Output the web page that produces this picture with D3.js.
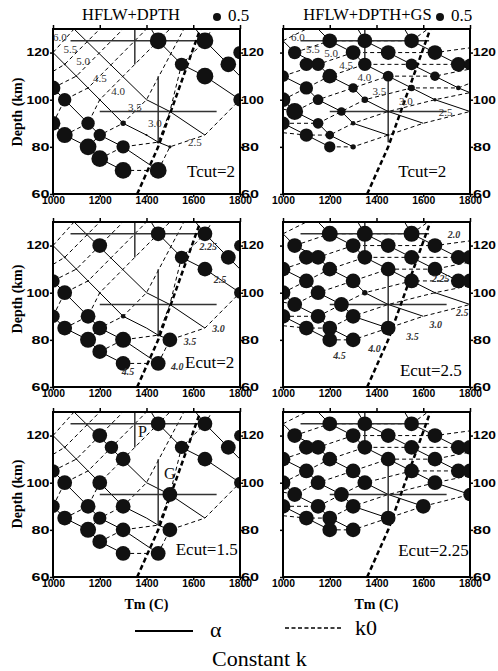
<!DOCTYPE html>
<html lang='en'>
<head>
  <meta charset='UTF-8'>
  <title>Depth vs Tm grid search</title>
  <style type='text/css'>
    body {
      margin: 0;
      background: #fff;
    }
    svg {
      display: block;
    }
    .tick text {
      font-family: 'Liberation Sans', Arial, sans-serif;
      font-weight: bold;
      font-size: 10.5px;
      fill: #000;
    }
    .tick line {
      stroke: #000;
      stroke-width: 1.5px;
    }
  </style>
  <script type='text/javascript' src='https://d3js.org/d3.v7.min.js'></script>
</head>
<body>
  <script type='text/javascript'>
    const tempTicks = [1000, 1200, 1400, 1600, 1800]
    const depthTicks = [60, 80, 100, 120]

    // HFLW+DPTH grid: constant alpha (solid) and constant k0 (dashed), [Tm, depth]
    const leftAlphaLines = [
      [[1000, 90], [1050, 85], [1150, 80], [1200, 75], [1300, 70]],
      [[1000, 105], [1050, 100], [1150, 90], [1200, 85], [1300, 80], [1450, 70]],
      [[1000, 120], [1050, 115], [1100, 110], [1150, 105], [1200, 100], [1300, 90], [1400, 85], [1450, 82], [1500, 80]],
      [[1090, 130], [1400, 100], [1500, 95], [1650, 85]],
      [[1420, 130], [1450, 125], [1550, 115], [1650, 110], [1800, 100]],
      [[1610, 130], [1650, 125], [1750, 115], [1800, 110]]
    ]
    const leftK0Lines = [
      [[1300, 70], [1450, 70], [1500, 80], [1650, 85], [1800, 100]],
      [[1200, 75], [1300, 80], [1450, 82], [1500, 95], [1550, 115], [1650, 125], [1680, 130]],
      [[1150, 80], [1200, 85], [1300, 90], [1400, 100], [1480, 115], [1560, 130]],
      [[1050, 85], [1150, 90], [1200, 100], [1300, 110], [1420, 122], [1500, 130]],
      [[1000, 90], [1050, 100], [1150, 105], [1250, 115], [1400, 130]],
      [[1000, 105], [1100, 110], [1200, 120], [1300, 130]],
      [[1000, 112], [1050, 115], [1150, 125], [1200, 130]],
      [[1000, 120], [1090, 130]]
    ]

    // HFLW+DPTH+GS grid
    const rightAlphaLines = [
      [[1000, 90], [1100, 85], [1200, 80]],
      [[1000, 100], [1050, 95], [1150, 90], [1200, 85], [1300, 80]],
      [[1000, 110], [1100, 105], [1150, 100], [1250, 95], [1300, 90], [1450, 85]],
      [[1000, 125], [1050, 120], [1150, 115], [1200, 110], [1300, 105], [1350, 100], [1450, 95], [1600, 90]],
      [[1150, 130], [1200, 125], [1300, 120], [1350, 115], [1450, 110], [1550, 105], [1650, 100], [1800, 95]],
      [[1320, 130], [1350, 125], [1450, 120], [1550, 115], [1650, 110], [1750, 105], [1800, 103]],
      [[1520, 130], [1550, 125], [1650, 120], [1750, 115], [1800, 113]]
    ]
    const rightK0Lines = [
      [[1200, 80], [1300, 80], [1450, 85], [1600, 90], [1800, 95]],
      [[1000, 86], [1100, 85], [1200, 85], [1300, 90], [1450, 95], [1650, 100], [1800, 103]],
      [[1000, 90], [1150, 90], [1250, 95], [1350, 100], [1550, 105], [1750, 105], [1800, 107]],
      [[1000, 96], [1050, 95], [1150, 100], [1300, 105], [1450, 110], [1650, 110], [1800, 113]],
      [[1000, 100], [1100, 105], [1200, 110], [1350, 115], [1550, 115], [1750, 115]],
      [[1000, 110], [1150, 115], [1300, 120], [1450, 120], [1650, 120], [1800, 122]],
      [[1050, 120], [1200, 125], [1350, 125], [1550, 125], [1620, 130]],
      [[1000, 125], [1100, 130]]
    ]

    const solidusLine = [[1360, 60], [1450, 80], [1630, 130]]
    const crossP = [[[1075, 125], [1625, 125]], [[1350, 115], [1350, 130]]]
    const crossG = [[[1200, 95], [1700, 95]], [[1450, 82], [1450, 110]]]

    // contour labels [text, Tm, depth]
    const leftK0Labels = [['6.0', 1029, 126], ['5.5', 1074, 121], ['5.0', 1129, 116], ['4.5', 1200, 108.5],
      ['4.0', 1279, 103], ['3.5', 1350, 96.4], ['3.0', 1436, 89.3], ['2.5', 1607, 81.5]]
    const rightK0Labels = [['6.0', 1064, 126], ['5.5', 1128, 121], ['5.0', 1206, 119], ['4.5', 1270, 114],
      ['4.0', 1348, 109], ['3.5', 1412, 103], ['3.0', 1526, 99], ['2.5', 1696, 94]]
    const leftAlphaLabels = [['2.25', 1664, 119], ['2.5', 1714, 105], ['3.0', 1708, 84.5], ['3.5', 1586, 79],
      ['4.0', 1532, 68], ['4.5', 1321, 66]]
    const rightAlphaLabels = [['2.0', 1732, 124], ['2.25', 1675, 105.5], ['2.5', 1767, 91], ['3.0', 1654, 86],
      ['3.5', 1554, 81], ['4.0', 1391, 76], ['4.5', 1242, 73]]
    const pointLabels = [['P', 1383, 121], ['G', 1500, 103]]

    // misfit circles [Tm, depth, value]
    const tcutLeft = [[1000, 105, 1.7], [1050, 100, 1.4], [1000, 90, 1.7], [1050, 85, 2.0], [1150, 90, 1.4],
      [1150, 80, 2.2], [1200, 85, 1.2], [1200, 75, 2.2], [1300, 80, 1.4], [1300, 70, 2.2], [1450, 70, 2.2],
      [1450, 125, 2.2], [1650, 125, 2.2], [1550, 115, 1.4], [1650, 110, 2.2], [1750, 115, 1.9], [1800, 120, 1.4],
      [1800, 100, 1.4], [1300, 90, 0.23], [1500, 80, 0.08], [1050, 115, 0.03], [1100, 110, 0.03],
      [1150, 105, 0.03], [1200, 100, 0.03], [1400, 85, 0.03], [1450, 82, 0.05]]
    const tcutRight = [[1200, 125, 1.7], [1350, 125, 1.7], [1550, 125, 1.7], [1050, 120, 1.4], [1300, 120, 1.7],
      [1450, 120, 1.7], [1650, 120, 1.7], [1100, 115, 1.4], [1150, 115, 1.4], [1350, 115, 1.4], [1550, 115, 1.1],
      [1750, 115, 1.7], [1800, 115, 1.1], [1000, 110, 1.1], [1200, 110, 1.7], [1450, 110, 0.9], [1650, 110, 0.7],
      [1100, 105, 1.4], [1300, 105, 0.7], [1550, 105, 0.34], [1750, 105, 0.17], [1000, 100, 1.7], [1050, 95, 2.2],
      [1150, 100, 0.9], [1350, 100, 0.34], [1650, 100, 0.09], [1250, 95, 0.58], [1000, 90, 1.4], [1150, 90, 0.9],
      [1300, 90, 0.17], [1100, 85, 1.4], [1200, 85, 0.58], [1200, 80, 1.0], [1300, 80, 0.23], [1450, 95, 0.05],
      [1450, 85, 0.05]]
    const ecut2Left = [[1450, 125, 1.7], [1650, 125, 1.7], [1200, 120, 1.7], [1550, 115, 1.4], [1650, 110, 1.7],
      [1750, 115, 1.7], [1800, 120, 1.1], [1800, 100, 1.1], [1000, 105, 1.4], [1050, 100, 1.7], [1000, 90, 1.4],
      [1050, 85, 1.7], [1150, 90, 1.7], [1200, 85, 1.7], [1150, 80, 2.0], [1200, 75, 1.7], [1300, 80, 2.0],
      [1300, 70, 1.7], [1450, 70, 1.7], [1500, 80, 1.7], [1300, 90, 0.17], [1050, 115, 0.03], [1100, 110, 0.03],
      [1150, 105, 0.03], [1200, 100, 0.03], [1450, 82, 0.05]]
    const ecut25Right = [[1200, 125, 2.0], [1350, 125, 2.0], [1550, 125, 2.0], [1050, 120, 1.7], [1300, 120, 1.7],
      [1450, 120, 1.7], [1650, 120, 1.7], [1100, 115, 1.7], [1150, 115, 1.7], [1350, 115, 1.7], [1550, 115, 1.7],
      [1750, 115, 1.7], [1800, 115, 1.7], [1000, 110, 1.7], [1200, 110, 1.7], [1450, 110, 1.7], [1650, 110, 1.7],
      [1100, 105, 1.7], [1300, 105, 1.7], [1550, 105, 1.7], [1750, 105, 1.7], [1800, 105, 1.7], [1000, 100, 1.7],
      [1150, 100, 1.7], [1350, 100, 0.23], [1650, 100, 0.03], [1050, 95, 1.7], [1250, 95, 1.7], [1000, 90, 1.7],
      [1150, 90, 1.7], [1300, 90, 1.7], [1100, 85, 1.7], [1200, 85, 1.7], [1200, 80, 1.7], [1300, 80, 1.7],
      [1450, 85, 1.7], [1450, 95, 0.03]]
    const ecut15Left = [[1450, 125, 1.7], [1650, 125, 1.7], [1200, 120, 1.7], [1250, 115, 1.4], [1300, 110, 1.7],
      [1550, 115, 1.4], [1650, 110, 1.7], [1750, 115, 1.7], [1800, 120, 1.1], [1800, 100, 1.1], [1000, 105, 1.4],
      [1050, 100, 1.7], [1200, 100, 1.7], [1000, 90, 1.4], [1050, 85, 1.7], [1150, 90, 1.7], [1200, 85, 1.4],
      [1150, 80, 2.0], [1200, 75, 1.7], [1300, 90, 1.7], [1300, 80, 1.7], [1300, 70, 1.7], [1450, 70, 1.7],
      [1500, 95, 1.7], [1500, 80, 1.7], [1050, 115, 0.03], [1100, 110, 0.03]]
    const ecut225Right = [[1200, 125, 1.7], [1350, 125, 1.7], [1550, 125, 1.7], [1050, 120, 1.7], [1300, 120, 1.7],
      [1450, 120, 1.7], [1650, 120, 1.7], [1100, 115, 1.7], [1150, 115, 1.7], [1350, 115, 1.7], [1550, 115, 1.7],
      [1750, 115, 1.7], [1800, 115, 1.7], [1000, 110, 1.7], [1200, 110, 1.7], [1450, 110, 1.7], [1650, 110, 1.7],
      [1100, 105, 1.7], [1300, 105, 1.7], [1550, 105, 1.7], [1750, 105, 1.7], [1800, 105, 1.7], [1000, 100, 1.7],
      [1150, 100, 1.7], [1350, 100, 1.7], [1650, 100, 1.7], [1050, 95, 1.7], [1250, 95, 1.7], [1800, 95, 1.4],
      [1000, 90, 1.7], [1150, 90, 1.7], [1300, 90, 1.7], [1600, 90, 1.7], [1100, 85, 1.7], [1200, 85, 1.7],
      [1450, 85, 1.7], [1200, 80, 1.7], [1300, 80, 1.7]]

    const serif = "'Liberation Serif', 'Times New Roman', serif"
    const colX = [53, 283]
    const rowY = [29, 222, 412]
    const pw = 187
    const ph = 165

    const panels = [
      {col: 0, row: 0, circles: tcutLeft, labels: leftK0Labels, italic: false, note: 'Tcut=2', noteAt: [1573, 67.4]},
      {col: 1, row: 0, circles: tcutRight, labels: rightK0Labels, italic: false, note: 'Tcut=2', noteAt: [1493, 67.4]},
      {col: 0, row: 1, circles: ecut2Left, labels: leftAlphaLabels, italic: true, note: 'Ecut=2', noteAt: [1565, 68]},
      {col: 1, row: 1, circles: ecut25Right, labels: rightAlphaLabels, italic: true, note: 'Ecut=2.5', noteAt: [1500, 64.5]},
      {col: 0, row: 2, circles: ecut15Left, labels: pointLabels, italic: null, note: 'Ecut=1.5', noteAt: [1525, 69.3]},
      {col: 1, row: 2, circles: ecut225Right, labels: [], italic: null, note: 'Ecut=2.25', noteAt: [1493, 68.7]}
    ]

    const svg = d3.select('body').append('svg')
      .attr('width', 498)
      .attr('height', 671)

    const xScale = d3.scaleLinear().domain([1000, 1800]).range([0, pw])
    const yScale = d3.scaleLinear().domain([60, 130]).range([ph, 0])
    const rScale = d3.scaleSqrt().domain([0, 0.5]).range([0, 4])
    const line = d3.line().x(d => xScale(d[0])).y(d => yScale(d[1]))

    panels.forEach((p, i) => {
      const g = svg.append('g')
        .attr('transform', `translate(${colX[p.col]},${rowY[p.row]})`)

      g.append('clipPath').attr('id', `clip${i}`)
        .append('rect').attr('width', pw).attr('height', ph)

      const plot = g.append('g').attr('clip-path', `url(#clip${i})`)
      const alphaLines = p.col === 0 ? leftAlphaLines : rightAlphaLines
      const k0Lines = p.col === 0 ? leftK0Lines : rightK0Lines

      plot.selectAll('path.alpha')
        .data(alphaLines)
        .enter().append('path')
        .attr('class', 'alpha')
        .attr('d', line)
        .style('fill', 'none')
        .style('stroke', '#000')
        .style('stroke-width', 1)

      plot.selectAll('path.k0')
        .data(k0Lines)
        .enter().append('path')
        .attr('class', 'k0')
        .attr('d', line)
        .style('fill', 'none')
        .style('stroke', '#000')
        .style('stroke-width', 1)
        .style('stroke-dasharray', '4,3')

      plot.selectAll('path.cross')
        .data(crossP.concat(crossG))
        .enter().append('path')
        .attr('class', 'cross')
        .attr('d', line)
        .style('stroke', '#333')
        .style('stroke-width', 1.5)

      plot.append('path')
        .attr('d', line(solidusLine))
        .style('fill', 'none')
        .style('stroke', '#000')
        .style('stroke-width', 2.5)
        .style('stroke-dasharray', '5,3')

      plot.selectAll('circle')
        .data(p.circles)
        .enter().append('circle')
        .attr('cx', d => xScale(d[0]))
        .attr('cy', d => yScale(d[1]))
        .attr('r', d => rScale(d[2]))
        .style('fill', '#111')

      plot.selectAll('text.lab')
        .data(p.labels)
        .enter().append('text')
        .attr('class', 'lab')
        .attr('x', d => xScale(d[1]))
        .attr('y', d => yScale(d[2]))
        .attr('text-anchor', 'middle')
        .attr('dominant-baseline', 'middle')
        .style('font-family', serif)
        .style('font-size', p.italic === null ? '16px' : (p.italic ? '10px' : '11px'))
        .style('font-style', p.italic ? 'italic' : 'normal')
        .style('font-weight', p.italic ? 'bold' : 'normal')
        .style('fill', p.italic === null ? '#111' : '#333')
        .text(d => d[0])

      g.append('text')
        .attr('x', xScale(p.noteAt[0]))
        .attr('y', yScale(p.noteAt[1]))
        .style('font-family', serif)
        .style('font-size', '17px')
        .text(p.note)

      // axes
      const bottom = g.append('g')
        .attr('transform', `translate(0,${ph})`)
        .call(d3.axisBottom(xScale).tickValues(tempTicks).tickSize(3).tickPadding(0).tickFormat(d3.format('d')))
      const left = g.append('g')
        .call(d3.axisLeft(yScale).tickValues(depthTicks).tickSize(3).tickPadding(0.5)
          .tickFormat(p.col === 0 ? d3.format('d') : ''))
      const right = g.append('g')
        .attr('transform', `translate(${pw},0)`)
        .call(d3.axisRight(yScale).tickValues(depthTicks).tickSize(3).tickPadding(0).tickFormat(d3.format('d')))
      const top = g.append('g')
        .call(d3.axisTop(xScale).tickValues(tempTicks).tickSize(4).tickFormat(''))

      ;[bottom, left, right, top].forEach(a => a.select('.domain').remove())
      bottom.selectAll('text').attr('textLength', 23).attr('lengthAdjust', 'spacingAndGlyphs')
      ;[left, right].forEach(a => a.selectAll('text')
        .filter(function () { return this.textContent !== '' })
        .attr('textLength', function () { return this.textContent.length > 2 ? 23 : 18 })
        .attr('lengthAdjust', 'spacingAndGlyphs'))
      right.selectAll('text').attr('x', p.col === 0 ? 1 : 3)

      g.append('rect')
        .attr('width', pw)
        .attr('height', ph)
        .style('fill', 'none')
        .style('stroke', '#000')
        .style('stroke-width', 2)
    })

    // column titles with size key
    const titles = [['HFLW+DPTH', 131, 217], ['HFLW+DPTH+GS', 367.5, 440]]
    titles.forEach(t => {
      svg.append('text')
        .attr('x', t[1])
        .attr('y', 20)
        .attr('text-anchor', 'middle')
        .style('font-family', serif)
        .style('font-size', '16.5px')
        .text(t[0])
      svg.append('circle')
        .attr('cx', t[2])
        .attr('cy', 17)
        .attr('r', rScale(0.5))
        .style('fill', '#111')
      svg.append('text')
        .attr('x', t[2] + 11)
        .attr('y', 21)
        .style('font-family', serif)
        .style('font-size', '17px')
        .text('0.5')
    })

    const rowCenters = [112, 299, 494]
    rowCenters.forEach(c => {
      svg.append('text')
        .attr('transform', `translate(22,${c}) rotate(-90)`)
        .attr('text-anchor', 'middle')
        .style('font-family', serif)
        .style('font-weight', 'bold')
        .style('font-size', '14px')
        .text('Depth (km)')
    })

    colX.forEach(cx => {
      svg.append('text')
        .attr('x', cx + xScale(1400))
        .attr('y', 609)
        .attr('text-anchor', 'middle')
        .style('font-family', serif)
        .style('font-weight', 'bold')
        .style('font-size', '14px')
        .text('Tm (C)')
    })

    // legend
    svg.append('line')
      .attr('x1', 135).attr('x2', 193)
      .attr('y1', 631).attr('y2', 631)
      .style('stroke', '#000')
      .style('stroke-width', 2)
    svg.append('text')
      .attr('x', 210).attr('y', 637)
      .style('font-family', serif)
      .style('font-size', '22px')
      .text('α')
    svg.append('line')
      .attr('x1', 285).attr('x2', 343)
      .attr('y1', 628).attr('y2', 628)
      .style('stroke', '#000')
      .style('stroke-width', 1.5)
      .style('stroke-dasharray', '4,2.5')
    svg.append('text')
      .attr('x', 355).attr('y', 635)
      .style('font-family', serif)
      .style('font-size', '22px')
      .text('k0')
    svg.append('text')
      .attr('x', 212).attr('y', 666)
      .style('font-family', serif)
      .style('font-size', '22px')
      .text('Constant k')
  </script>
</body>
</html>
